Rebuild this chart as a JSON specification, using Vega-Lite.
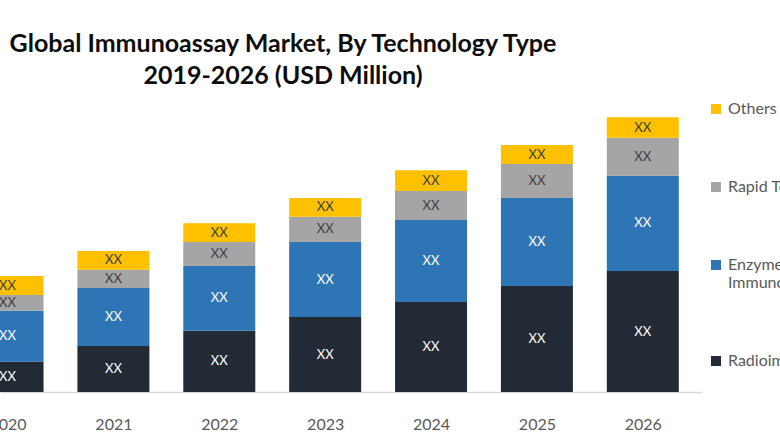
{
  "$schema": "https://vega.github.io/schema/vega-lite/v6.json",
  "autosize": {"type": "none"},
  "width": 702,
  "height": 275,
  "padding": {"left": 0, "top": 117, "right": 78, "bottom": 48},
  "background": "white",
  "config": {"view": {"stroke": null}, "font": "Lato"},
  "title": {
    "text": ["Global Immunoassay Market, By Technology Type", "2019-2026 (USD Million)"],
    "font": "Lato",
    "fontSize": 25,
    "fontWeight": "bold",
    "color": "#0d0d0d",
    "lineHeight": 32,
    "anchor": "middle",
    "dx": -68,
    "offset": 12
  },
  "data": {
    "values": [
      {"year": 2019, "tech": "Radioimmunoassay", "value": 24, "rank": 1},
      {"year": 2019, "tech": "Enzyme Linked Immunoassay", "value": 45, "rank": 2},
      {"year": 2019, "tech": "Rapid Tests", "value": 13, "rank": 3},
      {"year": 2019, "tech": "Others", "value": 18, "rank": 4},
      {"year": 2020, "tech": "Radioimmunoassay", "value": 30.3, "rank": 1},
      {"year": 2020, "tech": "Enzyme Linked Immunoassay", "value": 51, "rank": 2},
      {"year": 2020, "tech": "Rapid Tests", "value": 15.7, "rank": 3},
      {"year": 2020, "tech": "Others", "value": 19, "rank": 4},
      {"year": 2021, "tech": "Radioimmunoassay", "value": 46, "rank": 1},
      {"year": 2021, "tech": "Enzyme Linked Immunoassay", "value": 58, "rank": 2},
      {"year": 2021, "tech": "Rapid Tests", "value": 18.3, "rank": 3},
      {"year": 2021, "tech": "Others", "value": 18.7, "rank": 4},
      {"year": 2022, "tech": "Radioimmunoassay", "value": 61.3, "rank": 1},
      {"year": 2022, "tech": "Enzyme Linked Immunoassay", "value": 64.7, "rank": 2},
      {"year": 2022, "tech": "Rapid Tests", "value": 24, "rank": 3},
      {"year": 2022, "tech": "Others", "value": 18.7, "rank": 4},
      {"year": 2023, "tech": "Radioimmunoassay", "value": 75, "rank": 1},
      {"year": 2023, "tech": "Enzyme Linked Immunoassay", "value": 75, "rank": 2},
      {"year": 2023, "tech": "Rapid Tests", "value": 25.3, "rank": 3},
      {"year": 2023, "tech": "Others", "value": 18.7, "rank": 4},
      {"year": 2024, "tech": "Radioimmunoassay", "value": 90, "rank": 1},
      {"year": 2024, "tech": "Enzyme Linked Immunoassay", "value": 82, "rank": 2},
      {"year": 2024, "tech": "Rapid Tests", "value": 29, "rank": 3},
      {"year": 2024, "tech": "Others", "value": 20.7, "rank": 4},
      {"year": 2025, "tech": "Radioimmunoassay", "value": 106, "rank": 1},
      {"year": 2025, "tech": "Enzyme Linked Immunoassay", "value": 88, "rank": 2},
      {"year": 2025, "tech": "Rapid Tests", "value": 34, "rank": 3},
      {"year": 2025, "tech": "Others", "value": 19, "rank": 4},
      {"year": 2026, "tech": "Radioimmunoassay", "value": 121, "rank": 1},
      {"year": 2026, "tech": "Enzyme Linked Immunoassay", "value": 95.3, "rank": 2},
      {"year": 2026, "tech": "Rapid Tests", "value": 38, "rank": 3},
      {"year": 2026, "tech": "Others", "value": 20.4, "rank": 4}
    ]
  },
  "encoding": {
    "x": {
      "field": "year",
      "type": "quantitative",
      "title": null,
      "scale": {"domain": [2019.976, 2026.512], "nice": false, "zero": false},
      "axis": {
        "values": [2020, 2021, 2022, 2023, 2024, 2025, 2026],
        "format": "d",
        "grid": false,
        "ticks": false,
        "labelFlush": false,
        "labelBound": false,
        "labelOverlap": false,
        "labelFont": "Lato",
        "labelFontSize": 16,
        "labelColor": "#595959",
        "labelPadding": 24,
        "domainColor": "#d9d9d9",
        "domainWidth": 1.5
      }
    },
    "y": {
      "field": "value",
      "type": "quantitative",
      "stack": "zero",
      "scale": {"domain": [0, 275], "nice": false},
      "axis": null
    },
    "order": {"field": "rank", "type": "quantitative"}
  },
  "layer": [
    {
      "mark": {"type": "bar", "size": 72},
      "encoding": {
        "color": {
          "field": "tech",
          "type": "nominal",
          "scale": {
            "domain": ["Others", "Rapid Tests", "Enzyme Linked Immunoassay", "Radioimmunoassay"],
            "range": ["#FFC000", "#A5A5A5", "#2E75B6", "#222A35"]
          },
          "legend": {
            "title": null,
            "orient": "none",
            "legendX": 708,
            "legendY": -16,
            "padding": 0,
            "symbolType": "square",
            "symbolSize": 100,
            "symbolStrokeWidth": 0,
            "labelFont": "Lato",
            "labelFontSize": 16,
            "labelColor": "#595959",
            "labelOffset": 4,
            "labelLimit": 0,
            "rowPadding": 62,
            "labelExpr": "datum.label == 'Enzyme Linked Immunoassay' ? ['Enzyme Linked', 'Immunoassay'] : datum.label"
          }
        }
      }
    },
    {
      "mark": {"type": "text", "font": "Lato", "fontSize": 13},
      "encoding": {
        "y": {
          "field": "value",
          "type": "quantitative",
          "stack": "zero",
          "bandPosition": 0.5
        },
        "text": {"value": "XX"},
        "color": {
          "condition": {"test": "datum.rank <= 2", "value": "white"},
          "value": "#404040"
        }
      }
    }
  ]
}
